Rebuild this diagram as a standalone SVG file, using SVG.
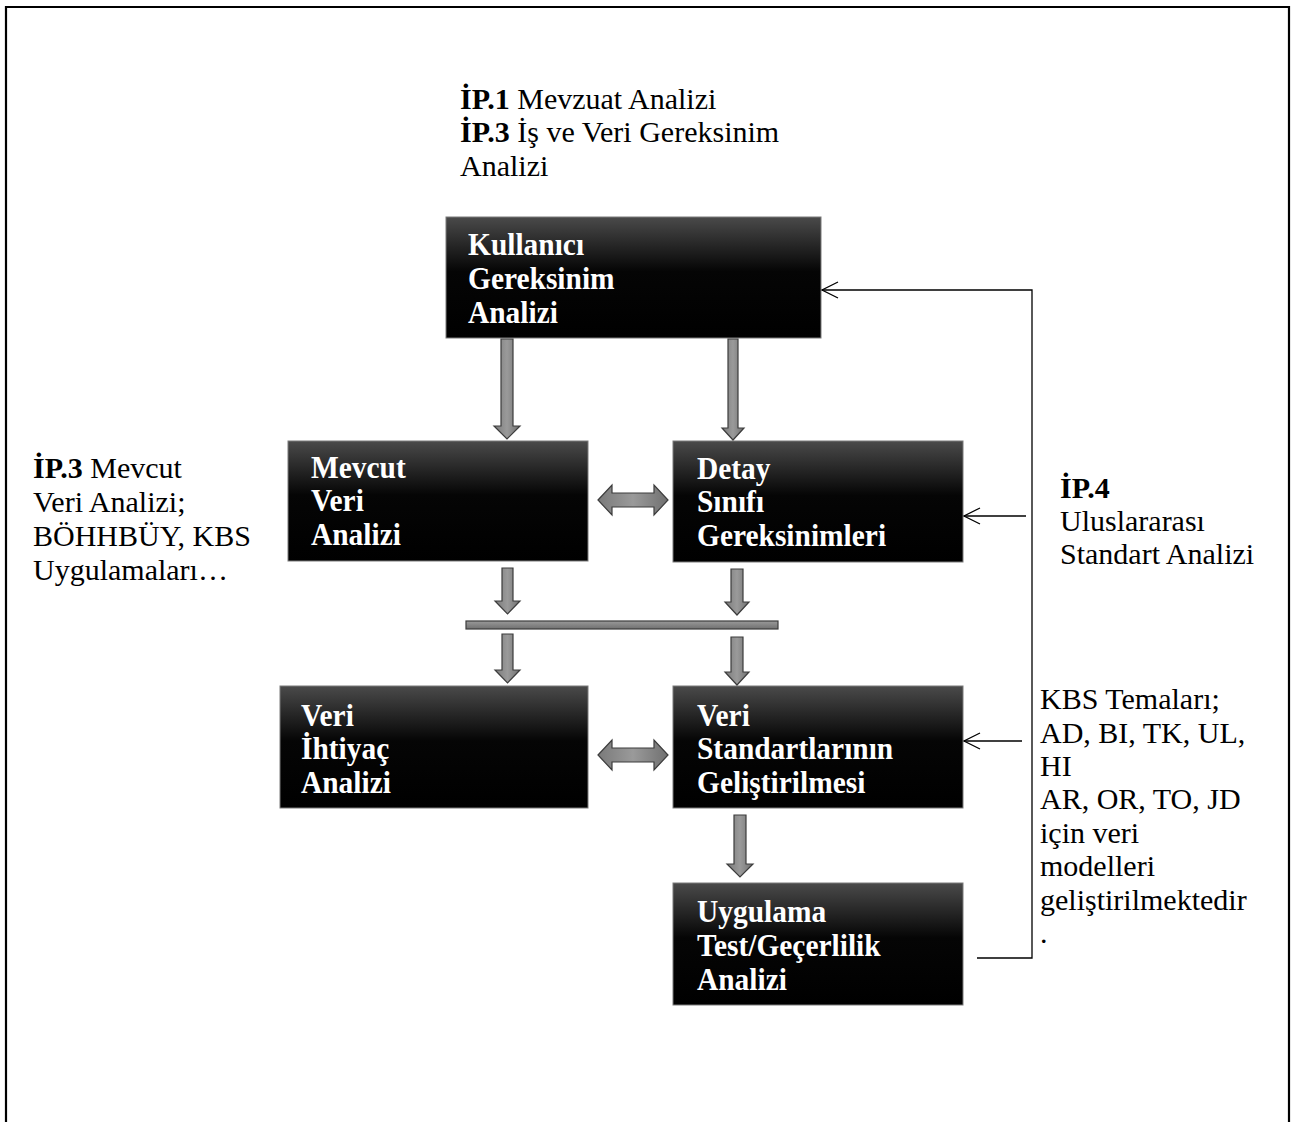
<svg xmlns="http://www.w3.org/2000/svg" width="1292" height="1122" viewBox="0 0 1292 1122">
  <style>
    .box { stroke: #7a7a7a; stroke-width: 1; }
    .bt { font-family: "Liberation Serif", "Times New Roman", serif; font-size: 32px; font-weight: bold; fill: #ffffff; }
    .t { font-family: "Liberation Serif", "Times New Roman", serif; font-size: 30px; fill: #000000; }
    .b { font-weight: bold; }
    .garrow { fill: url(#gray); stroke: #3c3c3c; stroke-width: 1.2; stroke-linejoin: miter; }
    .line { fill: none; stroke: #000; stroke-width: 1.3; }
  </style>
  <defs>
    <linearGradient id="dark" x1="0" y1="0" x2="0" y2="1">
      <stop offset="0" stop-color="#4a4a4a"/>
      <stop offset="0.45" stop-color="#050505"/>
      <stop offset="1" stop-color="#000000"/>
    </linearGradient>
    <linearGradient id="gray" x1="0" y1="0" x2="1" y2="0">
      <stop offset="0" stop-color="#7a7a7a"/>
      <stop offset="0.5" stop-color="#9a9a9a"/>
      <stop offset="1" stop-color="#707070"/>
    </linearGradient>
    <linearGradient id="grayv" x1="0" y1="0" x2="0" y2="1">
      <stop offset="0" stop-color="#9a9a9a"/>
      <stop offset="1" stop-color="#707070"/>
    </linearGradient>
  </defs>

  <rect width="1292" height="1122" fill="#ffffff"/>
  <!-- page frame -->
  <path d="M6,1122 V7 H1289 V1122" fill="none" stroke="#000" stroke-width="2.2"/>

  <!-- free text blocks -->
  <g id="label-ip1">
    <text class="t" x="460" y="109"><tspan class="b">İP.1</tspan> Mevzuat Analizi</text>
    <text class="t" x="460" y="142"><tspan class="b">İP.3</tspan> İş ve Veri Gereksinim</text>
    <text class="t" x="460" y="176">Analizi</text>
  </g>
  <g id="label-ip3">
    <text class="t" x="33" y="478"><tspan class="b">İP.3</tspan> Mevcut</text>
    <text class="t" x="33" y="512">Veri Analizi;</text>
    <text class="t" x="33" y="546">BÖHHBÜY, KBS</text>
    <text class="t" x="33" y="580">Uygulamaları…</text>
  </g>
  <g id="label-ip4">
    <text class="t b" x="1060" y="498">İP.4</text>
    <text class="t" x="1060" y="531">Uluslararası</text>
    <text class="t" x="1060" y="564">Standart Analizi</text>
  </g>
  <g id="label-kbs">
    <text class="t" x="1040" y="709">KBS Temaları;</text>
    <text class="t" x="1040" y="743">AD, BI, TK, UL,</text>
    <text class="t" x="1040" y="776">HI</text>
    <text class="t" x="1040" y="809">AR, OR, TO, JD</text>
    <text class="t" x="1040" y="843">için veri</text>
    <text class="t" x="1040" y="876">modelleri</text>
    <text class="t" x="1040" y="910">geliştirilmektedir</text>
    <text class="t" x="1040" y="943">.</text>
  </g>

  <!-- process boxes; labels are set slightly condensed -->
  <g id="node-kullanici">
    <rect class="box" x="446" y="217" width="375" height="121" fill="url(#dark)"/>
    <g transform="translate(468,0) scale(0.92,1)">
      <text class="bt" x="0" y="255">Kullanıcı</text>
      <text class="bt" x="0" y="289">Gereksinim</text>
      <text class="bt" x="0" y="323">Analizi</text>
    </g>
  </g>
  <g id="node-mevcut">
    <rect class="box" x="288" y="441" width="300" height="120" fill="url(#dark)"/>
    <g transform="translate(311,0) scale(0.92,1)">
      <text class="bt" x="0" y="478">Mevcut</text>
      <text class="bt" x="0" y="511">Veri</text>
      <text class="bt" x="0" y="545">Analizi</text>
    </g>
  </g>
  <g id="node-detay">
    <rect class="box" x="673" y="441" width="290" height="121" fill="url(#dark)"/>
    <g transform="translate(697,0) scale(0.92,1)">
      <text class="bt" x="0" y="479">Detay</text>
      <text class="bt" x="0" y="512">Sınıfı</text>
      <text class="bt" x="0" y="546">Gereksinimleri</text>
    </g>
  </g>
  <g id="node-ihtiyac">
    <rect class="box" x="280" y="686" width="308" height="122" fill="url(#dark)"/>
    <g transform="translate(301,0) scale(0.92,1)">
      <text class="bt" x="0" y="726">Veri</text>
      <text class="bt" x="0" y="759">İhtiyaç</text>
      <text class="bt" x="0" y="793">Analizi</text>
    </g>
  </g>
  <g id="node-standart">
    <rect class="box" x="673" y="686" width="290" height="122" fill="url(#dark)"/>
    <g transform="translate(697,0) scale(0.92,1)">
      <text class="bt" x="0" y="726">Veri</text>
      <text class="bt" x="0" y="759">Standartlarının</text>
      <text class="bt" x="0" y="793">Geliştirilmesi</text>
    </g>
  </g>
  <g id="node-uygulama">
    <rect class="box" x="673" y="883" width="290" height="122" fill="url(#dark)"/>
    <g transform="translate(697,0) scale(0.92,1)">
      <text class="bt" x="0" y="922">Uygulama</text>
      <text class="bt" x="0" y="956">Test/Geçerlilik</text>
      <text class="bt" x="0" y="990">Analizi</text>
    </g>
  </g>

  <!-- connectors -->
  <g id="connectors">
    <!-- block arrows, downward -->
    <path class="garrow" d="M501,339 H513 V426 H520 L507,439 L494,426 H501 Z"/>
    <path class="garrow" d="M728,339 H738 V428 H744 L733,440 L722,428 H728 Z"/>
    <path class="garrow" d="M502,568 H513 V601 H520 L507.5,614 L495,601 H502 Z"/>
    <path class="garrow" d="M731,569 H743 V602 H749 L737,615 L725,602 H731 Z"/>
    <path class="garrow" d="M502,634 H513 V670 H520 L507.5,683 L495,670 H502 Z"/>
    <path class="garrow" d="M731,637 H743 V672 H749 L737,685 L725,672 H731 Z"/>
    <path class="garrow" d="M734,815 H746 V864 H753 L740,877 L727,864 H734 Z"/>
    <!-- merge bar -->
    <rect class="garrow" x="466" y="621" width="312" height="8" style="fill:url(#grayv)"/>
    <!-- two-way block arrows -->
    <path class="garrow" d="M598,500 L612,485 V493 H654 V485 L668,500 L654,515 V507 H612 V515 Z"/>
    <path class="garrow" d="M598,755 L612,740 V748 H654 V740 L668,755 L654,770 V762 H612 V770 Z"/>
    <!-- feedback loop -->
    <path class="line" d="M977,958 H1032 V290 H822"/>
    <path class="line" d="M838,282 L822,290 L838,298"/>
    <!-- side inputs -->
    <path class="line" d="M1026,516 H964"/>
    <path class="line" d="M980,508 L964,516 L980,524"/>
    <path class="line" d="M1022,741 H964"/>
    <path class="line" d="M980,733 L964,741 L980,749"/>
  </g>
</svg>
